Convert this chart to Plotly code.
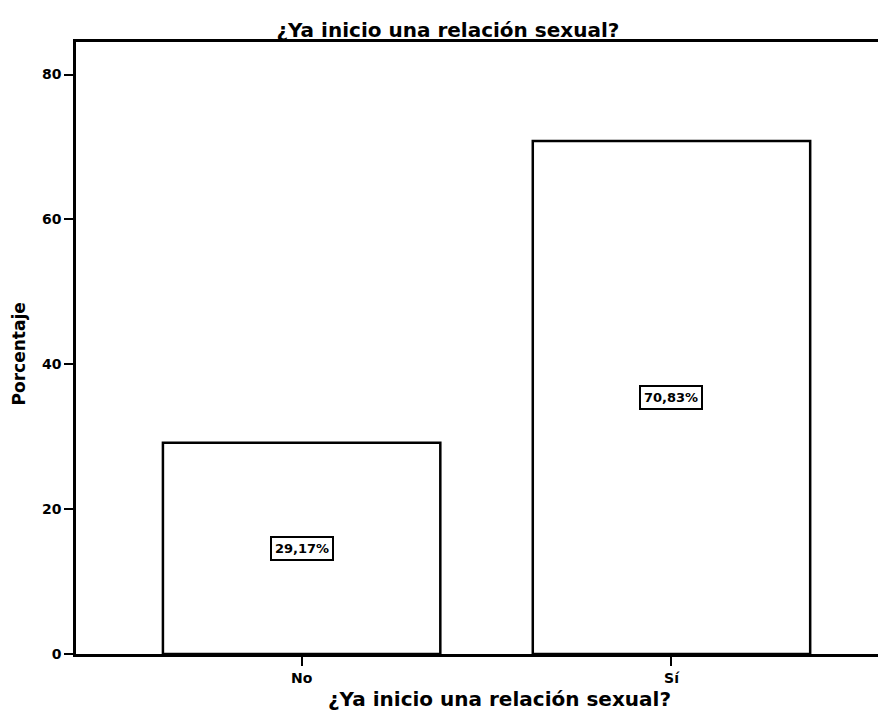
import plotly.graph_objects as go

categories = ["No", "Sí"]
values = [29.17, 70.83]
labels = ["29,17%", "70,83%"]
y_ticks = [0, 20, 40, 60, 80]

FONT = "DejaVu Sans"
TITLE = "¿Ya inicio una relación sexual?"

fig = go.Figure()
fig.add_trace(go.Bar(
    x=categories, y=values, width=0.75,
    marker=dict(color="white", line=dict(color="black", width=2.5)),
    hoverinfo="skip",
))

for c, v, t in zip(categories, values, labels):
    fig.add_annotation(
        x=c, y=v / 2, text="<b>%s</b>" % t, showarrow=False,
        font=dict(family=FONT, size=13, color="black"),
        bgcolor="white", bordercolor="black", borderwidth=2, borderpad=3,
    )

# axis titles as annotations for exact placement
fig.add_annotation(
    xref="paper", yref="paper", x=0.523, y=-0.0735, xanchor="center", yanchor="middle",
    text="<b>%s</b>" % TITLE, showarrow=False,
    font=dict(family=FONT, size=20, color="black"),
)
fig.add_annotation(
    xref="paper", yref="paper", x=-0.07, y=0.49, xanchor="center", yanchor="middle",
    text="<b>Porcentaje</b>", textangle=-90, showarrow=False,
    font=dict(family=FONT, size=17, color="black"),
)

fig.update_layout(
    width=878, height=710,
    margin=dict(l=68, r=0, t=34, b=64),
    paper_bgcolor="white", plot_bgcolor="white",
    showlegend=False,
    title=dict(text="<b>%s</b>" % TITLE, x=0.501, xanchor="center",
               y=0.969, yanchor="middle",
               font=dict(family=FONT, size=20, color="black")),
    font=dict(family=FONT, color="black"),
)
fig.update_xaxes(
    range=[-0.61, 1.58], showline=True, linecolor="black", linewidth=2.5, mirror=True,
    ticks="outside", ticklen=9, tickwidth=2, tickcolor="black",
    tickvals=categories, ticktext=["<b>%s</b>" % c for c in categories],
    tickfont=dict(family=FONT, size=14, color="black"),
    showgrid=False, zeroline=False, automargin=False,
)
fig.update_yaxes(
    range=[0, 84.5], showline=True, linecolor="black", linewidth=2.5,
    ticks="outside", ticklen=9, tickwidth=2, tickcolor="black",
    tickvals=y_ticks, ticktext=["<b>%d</b>" % t for t in y_ticks],
    tickfont=dict(family=FONT, size=14, color="black"),
    showgrid=False, zeroline=False, automargin=False,
)

fig.write_html("out.html")
